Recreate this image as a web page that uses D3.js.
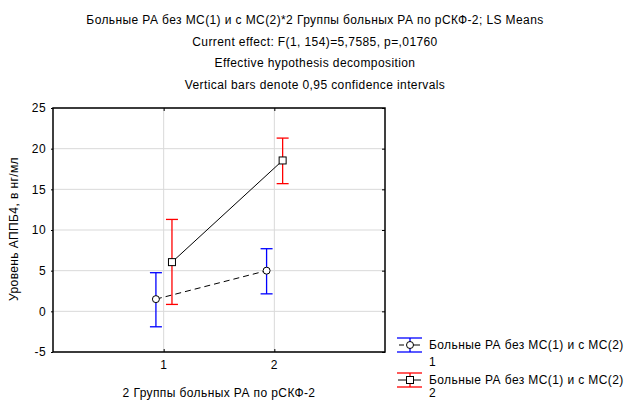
<!DOCTYPE html>
<html>
<head>
<meta charset="utf-8">
<script src="https://cdn.jsdelivr.net/npm/d3@7"></script>
<style>
  body { margin: 0; background: #fff; }
  text { font-family: "Liberation Sans", Arial, sans-serif; font-size: 12px; letter-spacing: 0.4px; fill: #000; }
</style>
</head>
<body>
<svg id="chart" width="630" height="401"></svg>
<script>
// chart data
const titleLines = [
  "Больные РА без МС(1) и с МС(2)*2 Группы больных РА по рСКФ-2; LS Means",
  "Current effect: F(1, 154)=5,7585, p=,01760",
  "Effective hypothesis decomposition",
  "Vertical bars denote 0,95 confidence intervals"
];
const groups = [1, 2];
const yTicks = [-5, 0, 5, 10, 15, 20, 25];
const legendLabels = ["Больные РА без МС(1) и с МС(2)", "Больные РА без МС(1) и с МС(2)"];
const legendSub = ["1", "2"];

const means1 = [1.5, 5.0];
const lower1 = [-1.9, 2.15];
const upper1 = [4.75, 7.7];

const means2 = [6.05, 18.55];
const lower2 = [0.85, 15.7];
const upper2 = [11.3, 21.3];

const series = [
  { means: means1, lower: lower1, upper: upper1, color: "#0000ff", shape: "circle", dash: "6,4", shift: -0.07 },
  { means: means2, lower: lower2, upper: upper2, color: "#ff0000", shape: "square", dash: null, shift: 0.075 }
];

const svg = d3.select("#chart");
const pLeft = 53, pRight = 385, pTop = 108, pBottom = 352;

const x = d3.scaleLinear().domain([0, 3]).range([pLeft, pRight]);
const y = d3.scaleLinear().domain([-5, 25]).range([pBottom, pTop]);

// titles
svg.selectAll(".title")
  .data(titleLines)
  .enter()
  .append("text")
  .attr("x", 315)
  .attr("y", (d, i) => 24 + i * 21.5)
  .attr("text-anchor", "middle")
  .text(d => d);

// grid
svg.selectAll(".hgrid")
  .data(yTicks)
  .enter()
  .append("line")
  .attr("x1", pLeft).attr("x2", pRight)
  .attr("y1", d => y(d)).attr("y2", d => y(d))
  .attr("stroke", "#d9d9d9");

svg.selectAll(".vgrid")
  .data(groups)
  .enter()
  .append("line")
  .attr("x1", d => x(d)).attr("x2", d => x(d))
  .attr("y1", pTop).attr("y2", pBottom)
  .attr("stroke", "#d9d9d9");

// axes
const yAxis = svg.append("g")
  .attr("transform", `translate(${pLeft},0)`)
  .call(d3.axisLeft(y).tickValues(yTicks).tickSize(2).tickPadding(5).tickFormat(d => String(d)));
const yAxisR = svg.append("g")
  .attr("transform", `translate(${pRight},0)`)
  .call(d3.axisLeft(y).tickValues(yTicks).tickSize(3).tickFormat(""));
const xAxis = svg.append("g")
  .attr("transform", `translate(0,${pBottom})`)
  .call(d3.axisTop(x).tickValues(groups).tickSize(3).tickFormat(""));
const xAxisT = svg.append("g")
  .attr("transform", `translate(0,${pTop})`)
  .call(d3.axisBottom(x).tickValues(groups).tickSize(3).tickFormat(""));

[yAxis, yAxisR, xAxis, xAxisT].forEach(g => {
  g.select(".domain").remove();
  g.selectAll("line").attr("stroke", "#000");
  g.selectAll("text").attr("font-family", null).attr("font-size", null).attr("fill", "#000");
});
yAxis.attr("font-family", null).attr("font-size", null);

svg.selectAll(".xlab")
  .data(groups)
  .enter()
  .append("text")
  .attr("x", d => x(d))
  .attr("y", 369)
  .attr("text-anchor", "middle")
  .text(d => d);

// frame
svg.append("rect")
  .attr("x", pLeft).attr("y", pTop)
  .attr("width", pRight - pLeft).attr("height", pBottom - pTop)
  .attr("fill", "none")
  .attr("stroke", "#000")
  .attr("stroke-width", 1.5);

// axis titles
svg.append("text")
  .attr("x", (pLeft + pRight) / 2)
  .attr("y", 397)
  .attr("text-anchor", "middle")
  .text("2 Группы больных РА по рСКФ-2");

svg.append("text")
  .attr("transform", `translate(18,${(pTop + pBottom) / 2 - 1}) rotate(-90)`)
  .attr("text-anchor", "middle")
  .text("Уровень АППБ4, в нг/мл");

// series lines, error bars, markers
const capW = 6;
series.forEach(s => {
  const pts = groups.map((g, i) => ({ g: g + s.shift, m: s.means[i], lo: s.lower[i], hi: s.upper[i] }));

  svg.append("path")
    .attr("d", d3.line().x(d => x(d.g)).y(d => y(d.m))(pts))
    .attr("fill", "none")
    .attr("stroke", "#000")
    .attr("stroke-width", 1)
    .attr("stroke-dasharray", s.dash);

  const bars = svg.append("g").attr("stroke", s.color).attr("stroke-width", 1.3);
  pts.forEach(d => {
    bars.append("line").attr("x1", x(d.g)).attr("x2", x(d.g)).attr("y1", y(d.hi)).attr("y2", y(d.lo));
    bars.append("line").attr("x1", x(d.g) - capW).attr("x2", x(d.g) + capW).attr("y1", y(d.hi)).attr("y2", y(d.hi));
    bars.append("line").attr("x1", x(d.g) - capW).attr("x2", x(d.g) + capW).attr("y1", y(d.lo)).attr("y2", y(d.lo));
  });

  pts.forEach(d => drawMarker(svg, s.shape, x(d.g), y(d.m)));
});

function drawMarker(g, shape, cx, cy) {
  if (shape === "circle") {
    g.append("circle").attr("cx", cx).attr("cy", cy).attr("r", 3.5)
      .attr("fill", "#fff").attr("stroke", "#000").attr("stroke-width", 1);
  } else {
    g.append("rect").attr("x", cx - 3.5).attr("y", cy - 3.5).attr("width", 7).attr("height", 7)
      .attr("fill", "#fff").attr("stroke", "#000").attr("stroke-width", 1);
  }
}

// legend
const legY = [345, 380];
series.forEach((s, i) => {
  const cy = legY[i];
  const cx = 410;
  const lg = svg.append("g");
  lg.append("line").attr("x1", 397).attr("x2", 422).attr("y1", cy - 7).attr("y2", cy - 7)
    .attr("stroke", s.color).attr("stroke-width", 1.3);
  lg.append("line").attr("x1", 397).attr("x2", 422).attr("y1", cy + 7).attr("y2", cy + 7)
    .attr("stroke", s.color).attr("stroke-width", 1.3);
  lg.append("line").attr("x1", cx).attr("x2", cx).attr("y1", cy - 7).attr("y2", cy + 7)
    .attr("stroke", s.color).attr("stroke-width", 1.3);
  if (s.dash) {
    lg.append("line").attr("x1", 399).attr("x2", 404).attr("y1", cy).attr("y2", cy).attr("stroke", "#000");
    lg.append("line").attr("x1", 413).attr("x2", 420).attr("y1", cy).attr("y2", cy).attr("stroke", "#000");
  } else {
    lg.append("line").attr("x1", 398).attr("x2", 421).attr("y1", cy).attr("y2", cy).attr("stroke", "#000");
  }
  drawMarker(lg, s.shape, cx, cy);
  lg.append("text").attr("x", 429).attr("y", cy + 4).text(legendLabels[i]);
  lg.append("text").attr("x", 429).attr("y", Math.min(cy + 21, 397)).text(legendSub[i]);
});
</script>
</body>
</html>
